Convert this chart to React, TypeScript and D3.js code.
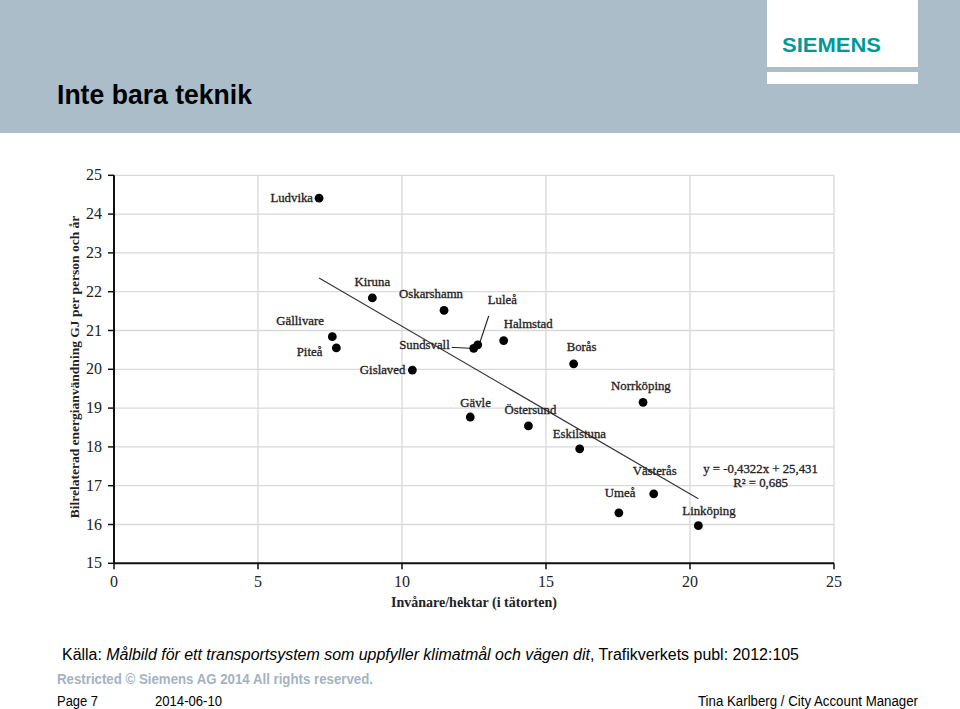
import React from "react";
import * as d3 from "d3";

const cities = ["Ludvika","Kiruna","Oskarshamn","Gällivare","Piteå","Gislaved","Sundsvall","Luleå","Halmstad","Borås","Norrköping","Gävle","Östersund","Eskilstuna","Västerås","Umeå","Linköping"];
const density = [7.12,8.97,11.46,7.58,7.72,10.36,12.49,12.63,13.53,15.96,18.37,12.37,14.39,16.17,18.74,17.53,20.29];
const energy = [24.41,21.84,21.52,20.84,20.55,19.98,20.54,20.63,20.74,20.14,19.15,18.77,18.54,17.95,16.79,16.30,15.97];
const xTicks = [0,5,10,15,20,25];
const yTicks = [15,16,17,18,19,20,21,22,23,24,25];
const slope = -0.4322;
const intercept = 25.431;
const eqLines = ["y = -0,4322x + 25,431", "R² = 0,685"];

// label placement (pixel offsets from the dot), styling only
const labelLayout: Record<string, [number, number, string]> = {
  Ludvika: [-6, 4, "end"],
  Kiruna: [0, -12, "middle"],
  Oskarshamn: [-45, -12, "start"],
  "Gällivare": [-56, -12, "start"],
  "Piteå": [-14, 8, "end"],
  Gislaved: [-7, 4, "end"],
  Sundsvall: [-24, 1, "end"],
  "Luleå": [10, -41, "start"],
  Halmstad: [0, -13, "start"],
  "Borås": [-7, -13, "start"],
  "Norrköping": [-32, -12, "start"],
  "Gävle": [-10, -10, "start"],
  "Östersund": [-24, -12, "start"],
  Eskilstuna: [-27, -11, "start"],
  "Västerås": [-21, -19, "start"],
  "Umeå": [-14, -16, "start"],
  "Linköping": [-16, -11, "start"],
};

const serif = "'Liberation Serif', 'Times New Roman', serif";
const sans = "'Liberation Sans', Arial, sans-serif";

export default function App() {
  const x = d3.scaleLinear().domain([0, 25]).range([114, 834]);
  const y = d3.scaleLinear().domain([15, 25]).range([563.3, 175.3]);
  const xMin = d3.min(density)!;
  const xMax = d3.max(density)!;
  const trend = d3.line<number>().x((v) => x(v)).y((v) => y(slope * v + intercept));

  const idx = (n: string) => cities.indexOf(n);
  const sv = idx("Sundsvall");
  const lu = idx("Luleå");

  return (
    <svg width={960} height={709} style={{ position: "absolute", left: 0, top: 0, background: "#fff" }}>
      {/* header */}
      <rect x={0} y={0} width={960} height={133} fill="#abbdc9" />
      <rect x={767} y={0} width={151} height={67} fill="#fff" />
      <rect x={767} y={72} width={151} height={12} fill="#fff" />
      <text x={782} y={52} fontFamily={sans} fontWeight="bold" fontSize={21} fill="#009999" textLength={99} lengthAdjust="spacingAndGlyphs">SIEMENS</text>
      <text x={57} y={104} fontFamily={sans} fontWeight="bold" fontSize={28} fill="#000" textLength={195} lengthAdjust="spacingAndGlyphs">Inte bara teknik</text>

      {/* grid */}
      {yTicks.map((t) => (
        <line key={"gy" + t} x1={x(0)} x2={x(25)} y1={y(t)} y2={y(t)} stroke="#d9d9d9" strokeWidth={1.3} />
      ))}
      {xTicks.filter((t) => t > 0).map((t) => (
        <line key={"gx" + t} x1={x(t)} x2={x(t)} y1={y(15)} y2={y(25)} stroke="#d9d9d9" strokeWidth={1.3} />
      ))}

      {/* axes */}
      <line x1={x(0)} x2={x(0)} y1={y(25)} y2={y(15)} stroke="#111" strokeWidth={2} />
      <line x1={x(0)} x2={x(25)} y1={y(15)} y2={y(15)} stroke="#111" strokeWidth={2} />
      {yTicks.map((t) => (
        <g key={"ty" + t}>
          <line x1={x(0) - 6} x2={x(0)} y1={y(t)} y2={y(t)} stroke="#111" strokeWidth={1.5} />
          <text x={102} y={y(t) + 5} textAnchor="end" fontFamily={serif} fontSize={16} fill="#222">{t}</text>
        </g>
      ))}
      {xTicks.map((t) => (
        <g key={"tx" + t}>
          <line x1={x(t)} x2={x(t)} y1={y(15)} y2={y(15) + 6} stroke="#111" strokeWidth={1.5} />
          <text x={x(t)} y={587} textAnchor="middle" fontFamily={serif} fontSize={16} fill="#222">{t}</text>
        </g>
      ))}
      <text x={474} y={607} textAnchor="middle" fontFamily={serif} fontWeight="bold" fontSize={14} fill="#222">Invånare/hektar (i tätorten)</text>
      <text transform={`translate(79, 367) rotate(-90)`} textAnchor="middle" fontFamily={serif} fontWeight="bold" fontSize={13.5} fill="#222">Bilrelaterad energianvändning GJ per person och år</text>

      {/* trend line */}
      <path d={trend([xMin, xMax]) || ""} fill="none" stroke="#333" strokeWidth={1.1} />

      {/* leader lines */}
      <line x1={x(density[sv]) - 22} y1={y(energy[sv]) - 1} x2={x(density[sv]) - 2} y2={y(energy[sv])} stroke="#222" strokeWidth={1} />
      <line x1={x(density[lu]) + 11} y1={y(energy[lu]) - 29} x2={x(density[lu]) + 2} y2={y(energy[lu]) - 2} stroke="#222" strokeWidth={1.2} />

      {/* points */}
      {cities.map((c, i) => (
        <circle key={c} cx={x(density[i])} cy={y(energy[i])} r={4.4} fill="#000" />
      ))}
      {cities.map((c, i) => {
        const [dx, dy, anchor] = labelLayout[c];
        return (
          <text key={"l" + c} x={x(density[i]) + dx} y={y(energy[i]) + dy} textAnchor={anchor as any} fontFamily={serif} fontSize={12.8} fill="#222" stroke="#222" strokeWidth={0.3}>{c}</text>
        );
      })}

      {/* equation */}
      {eqLines.map((l, i) => (
        <text key={l} x={x(22.45)} y={y(17.32) + i * 14} textAnchor="middle" fontFamily={serif} fontSize={12.8} fill="#222" stroke="#222" strokeWidth={0.3}>{l}</text>
      ))}

      {/* footer */}
      <text x={62} y={660} fontFamily={sans} fontSize={16} fill="#000" textLength={737} lengthAdjust="spacingAndGlyphs">
        Källa: <tspan fontStyle="italic">Målbild för ett transportsystem som uppfyller klimatmål och vägen dit</tspan>, Trafikverkets publ: 2012:105
      </text>
      <text x={57} y={684} fontFamily={sans} fontWeight="bold" fontSize={14} fill="#a3b3c0" textLength={316} lengthAdjust="spacingAndGlyphs">Restricted © Siemens AG 2014 All rights reserved.</text>
      <text x={57} y={706} fontFamily={sans} fontSize={14} fill="#000" textLength={41} lengthAdjust="spacingAndGlyphs">Page 7</text>
      <text x={155} y={706} fontFamily={sans} fontSize={14} fill="#000" textLength={67} lengthAdjust="spacingAndGlyphs">2014-06-10</text>
      <text x={698} y={706} fontFamily={sans} fontSize={14} fill="#000" textLength={220} lengthAdjust="spacingAndGlyphs">Tina Karlberg / City Account Manager</text>
    </svg>
  );
}
